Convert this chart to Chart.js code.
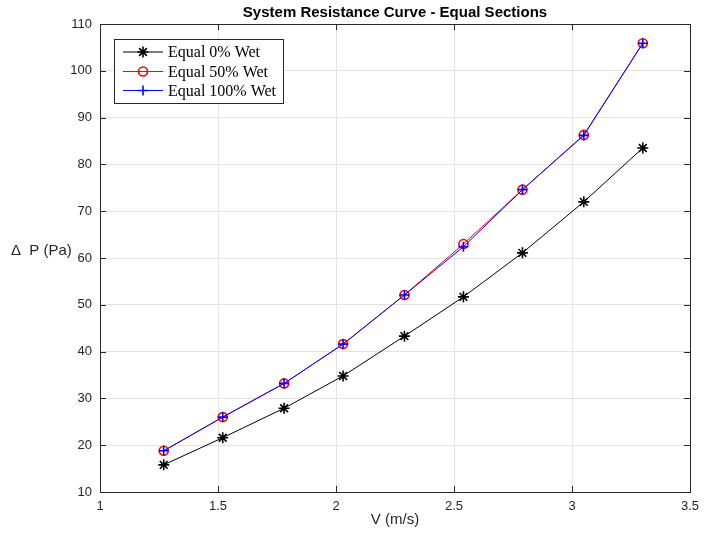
<!DOCTYPE html>
<html>
<head>
<meta charset="utf-8">
<script src="https://cdn.jsdelivr.net/npm/chart.js@4/dist/chart.umd.min.js"></script>
<style>
  html, body { margin: 0; padding: 0; background: #fff; }
</style>
</head>
<body>
<canvas id="grafico" width="704" height="533"></canvas>
<script>
// velocidade (m/s) e perda de carga (Pa)
var velocidade = [1.27, 1.52, 1.78, 2.03, 2.29, 2.54, 2.79, 3.05, 3.30];
var seco = [15.8, 21.6, 27.9, 34.8, 43.3, 51.7, 61.1, 72.0, 83.5];
var molhado50 = [18.8, 26.0, 33.2, 41.6, 52.1, 63.0, 74.6, 86.3, 105.9];
var molhado100 = [18.8, 26.0, 33.2, 41.6, 52.1, 62.4, 74.6, 86.2, 105.9];

var nomes = ['Equal 0% Wet', 'Equal 50% Wet', 'Equal 100% Wet'];
var titulo = 'System Resistance Curve - Equal Sections';

function pontos(ys) {
  return velocidade.map(function (v, i) { return { x: v, y: ys[i] }; });
}

var fonteEixo = '"Liberation Sans", Helvetica, Arial, sans-serif';

// desenha moldura, marcas, rótulos dos eixos, título e legenda
var extras = {
  id: 'extras',
  afterDraw: function (chart) {
    var ctx = chart.ctx, a = chart.chartArea;
    var sx = chart.scales.x, sy = chart.scales.y;
    ctx.save();
    ctx.strokeStyle = '#262626';
    ctx.lineWidth = 1;
    // marcas internas
    ctx.beginPath();
    sx.ticks.forEach(function (t) {
      var px = Math.round(sx.getPixelForValue(t.value)) + 0.5;
      ctx.moveTo(px, a.bottom); ctx.lineTo(px, a.bottom - 6);
      ctx.moveTo(px, a.top); ctx.lineTo(px, a.top + 6);
    });
    sy.ticks.forEach(function (t) {
      var py = Math.round(sy.getPixelForValue(t.value)) + 0.5;
      ctx.moveTo(a.left, py); ctx.lineTo(a.left + 6, py);
      ctx.moveTo(a.right, py); ctx.lineTo(a.right - 6, py);
    });
    ctx.stroke();
    ctx.strokeRect(Math.round(a.left) + 0.5, Math.round(a.top) + 0.5,
      Math.round(a.right - a.left), Math.round(a.bottom - a.top));

    ctx.fillStyle = '#262626';
    ctx.font = '15px ' + fonteEixo;
    ctx.textAlign = 'center';
    ctx.textBaseline = 'middle';
    ctx.fillText('V (m/s)', (a.left + a.right) / 2, 520);
    ctx.textAlign = 'left';
    ctx.fillText('\u0394  P (Pa)', 11, 251);

    ctx.fillStyle = '#000';
    ctx.font = 'bold 15px ' + fonteEixo;
    ctx.textAlign = 'center';
    ctx.fillText(titulo, (a.left + a.right) / 2, 13);

    // legenda
    var bx = 114.5, by = 39.5, bw = 169, bh = 64;
    ctx.fillStyle = '#fff';
    ctx.fillRect(bx, by, bw, bh);
    ctx.strokeStyle = '#262626';
    ctx.strokeRect(bx, by, bw, bh);
    var linhas = [52, 71.5, 90.5];
    ctx.font = '16px "Liberation Serif", "Times New Roman", serif';
    ctx.textAlign = 'left';
    chart.data.datasets.forEach(function (ds, i) {
      var y = linhas[i];
      ctx.strokeStyle = ds.borderColor;
      ctx.lineWidth = 1;
      ctx.beginPath();
      ctx.moveTo(123, y); ctx.lineTo(163, y);
      ctx.stroke();
      ctx.fillStyle = 'rgba(0,0,0,0)';
      ctx.lineWidth = ds.pointBorderWidth;
      Chart.helpers.drawPoint(ctx, {
        pointStyle: ds.pointStyle, radius: ds.pointRadius, rotation: 0,
        borderWidth: ds.pointBorderWidth
      }, 143, y);
      ctx.fillStyle = '#000';
      ctx.fillText(nomes[i], 168, y + 1);
    });
    ctx.restore();
  }
};

function serie(i, ys, cor, estilo, raio, ordem) {
  return {
    label: nomes[i],
    data: pontos(ys),
    showLine: true,
    borderColor: cor,
    backgroundColor: 'rgba(0,0,0,0)',
    borderWidth: 1,
    pointStyle: estilo,
    pointRadius: raio,
    pointHoverRadius: raio,
    pointBorderColor: cor,
    pointBackgroundColor: 'rgba(0,0,0,0)',
    pointBorderWidth: 1.6,
    order: ordem
  };
}

function rotulo(v) { return String(Math.round(v * 10) / 10); }

var ctx = document.getElementById('grafico').getContext('2d');
var chart = new Chart(ctx, {
  type: 'scatter',
  data: {
    datasets: [
      serie(0, seco, '#000000', 'star', 5.5, 2),
      serie(1, molhado50, '#ff0000', 'circle', 4.5, 1),
      serie(2, molhado100, '#0000ff', 'cross', 5, 0)
    ]
  },
  options: {
    responsive: false,
    animation: false,
    devicePixelRatio: 1,
    layout: { padding: { top: 24, right: 14, left: 0, bottom: 0 } },
    plugins: { legend: { display: false }, title: { display: false }, tooltip: { enabled: false } },
    scales: {
      x: {
        type: 'linear', min: 1, max: 3.5,
        afterFit: function (s) { s.height = 41; s.paddingRight = 0; s.paddingLeft = 0; },
        ticks: { stepSize: 0.5, padding: 7, maxRotation: 0, minRotation: 0, color: '#262626', callback: rotulo, font: { family: fonteEixo, size: 13 } },
        grid: { color: '#e3e3e3', drawTicks: false },
        border: { display: false }
      },
      y: {
        type: 'linear', min: 10, max: 110,
        afterFit: function (s) { s.width = 100; s.paddingTop = 0; s.paddingBottom = 0; },
        ticks: { stepSize: 10, padding: 8, color: '#262626', callback: rotulo, font: { family: fonteEixo, size: 13 } },
        grid: { color: '#e3e3e3', drawTicks: false },
        border: { display: false }
      }
    }
  },
  plugins: [extras]
});
</script>
</body>
</html>
